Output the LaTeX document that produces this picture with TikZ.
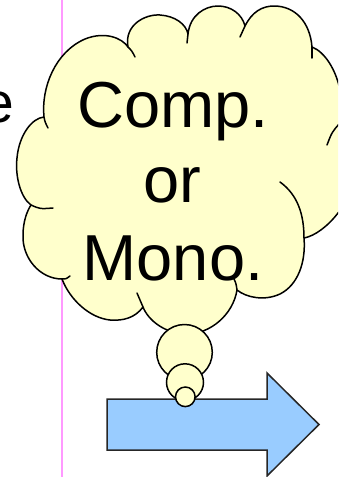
\documentclass[tikz,border=0pt]{standalone}
\usepackage{fontspec}
\setmainfont{Liberation Sans}
\definecolor{cloudyellow}{HTML}{FFFFCC}
\definecolor{arrowblue}{HTML}{99CCFF}
\definecolor{guidepink}{HTML}{FF99FF}
\begin{document}
\begin{tikzpicture}[x=1pt,y=-1pt,
  cloudline/.style={draw=black,line width=1.5pt,fill=cloudyellow,line join=round},
  stubline/.style={draw=black,line width=1.5pt,line cap=round},
  bigtext/.style={inner sep=0pt,anchor=base,font=\fontsize{65}{76}\selectfont},
  bubble/.style={circle,draw=black,line width=1.5pt,fill=cloudyellow,inner sep=0pt},
  arrowshape/.style={draw=black!85,line width=1.5pt,fill=arrowblue,line join=miter},
  pinkline/.style={draw=guidepink,line width=2pt}]
\useasboundingbox (0,0) rectangle (338,477);
\clip (0,0) rectangle (338,477);
% guide line behind everything
\coordinate (ptop) at (62,0);
\coordinate (pbot) at (62,477);
\draw[pinkline] (ptop) -- (pbot);
% partial word at the left edge
\node[inner sep=0pt,anchor=base east,font=\fontsize{57}{60}\selectfont] (etext) at (14,122) {e};
% cloud outline
\path[cloudline] (44,117)
 .. controls (41,88) and (55,52) .. (85,39)
 .. controls (105,31) and (122,38) .. (128,47)
 .. controls (124,25) and (145,14) .. (160,15)
 .. controls (175,16) and (186,24) .. (188,34)
 .. controls (190,15) and (205,6) .. (218,6)
 .. controls (231,6) and (242,14) .. (245,26)
 .. controls (252,12) and (262,6) .. (274,6)
 .. controls (295,6) and (310,22) .. (312,47)
 .. controls (325,52) and (336,70) .. (340,90)
 .. controls (343,105) and (343,118) .. (340,125)
 .. controls (352,150) and (352,200) .. (338,213)
 .. controls (328,226) and (315,236) .. (304,238)
 .. controls (306,262) and (298,285) .. (280,294)
 .. controls (265,301) and (247,298) .. (237,290)
 .. controls (233,315) and (210,334) .. (187,334)
 .. controls (165,334) and (148,320) .. (143,307)
 .. controls (135,318) and (123,321) .. (110,320)
 .. controls (90,318) and (70,300) .. (62,279)
 .. controls (40,279) and (22,258) .. (23,235)
 .. controls (23,222) and (27,211) .. (31,205)
 .. controls (20,197) and (15,175) .. (17,158)
 .. controls (19,135) and (32,118) .. (44,117) -- cycle;
% inner stubs of the cloud arcs
\draw[stubline] (44,117) .. controls (45,122) .. (48,128);
\draw[stubline] (128,47) .. controls (132,51) .. (135,57);
\draw[stubline] (188,34) .. controls (187,38) .. (187,43);
\draw[stubline] (245,26) .. controls (242,31) .. (240,37);
\draw[stubline] (312,47) .. controls (312.5,52) .. (312,58);
\draw[stubline] (340,123) .. controls (332,132) .. (327,145);
\draw[stubline] (304,238) .. controls (304,215) and (298,195) .. (280,182);
\draw[stubline] (237,290) .. controls (236,283) .. (233,277);
\draw[stubline] (143,307) .. controls (140,300) .. (137,293);
\draw[stubline] (62,279) .. controls (66,279) .. (70,276);
\draw[stubline] (31,205) .. controls (40,209) .. (53,208);
% cloud text
\node[bigtext] (l1) at (173,127.5) {Comp.};
\node[bigtext] (l2) at (172,202) {or};
\node[bigtext] (l3) at (173,280) {Mono.};
% block arrow
\path[arrowshape] (107,399) -- (267,399) -- (267,373) -- (319,424.5) -- (267,476) -- (267,450) -- (107,450) -- cycle;
% thought bubbles
\node[bubble,minimum size=55.6pt] (b1) at (184.5,352.3) {};
\node[bubble,minimum size=37pt] (b2) at (185,382.3) {};
\node[bubble,minimum size=19.6pt] (b3) at (185.3,396.8) {};
\end{tikzpicture}
\end{document}
